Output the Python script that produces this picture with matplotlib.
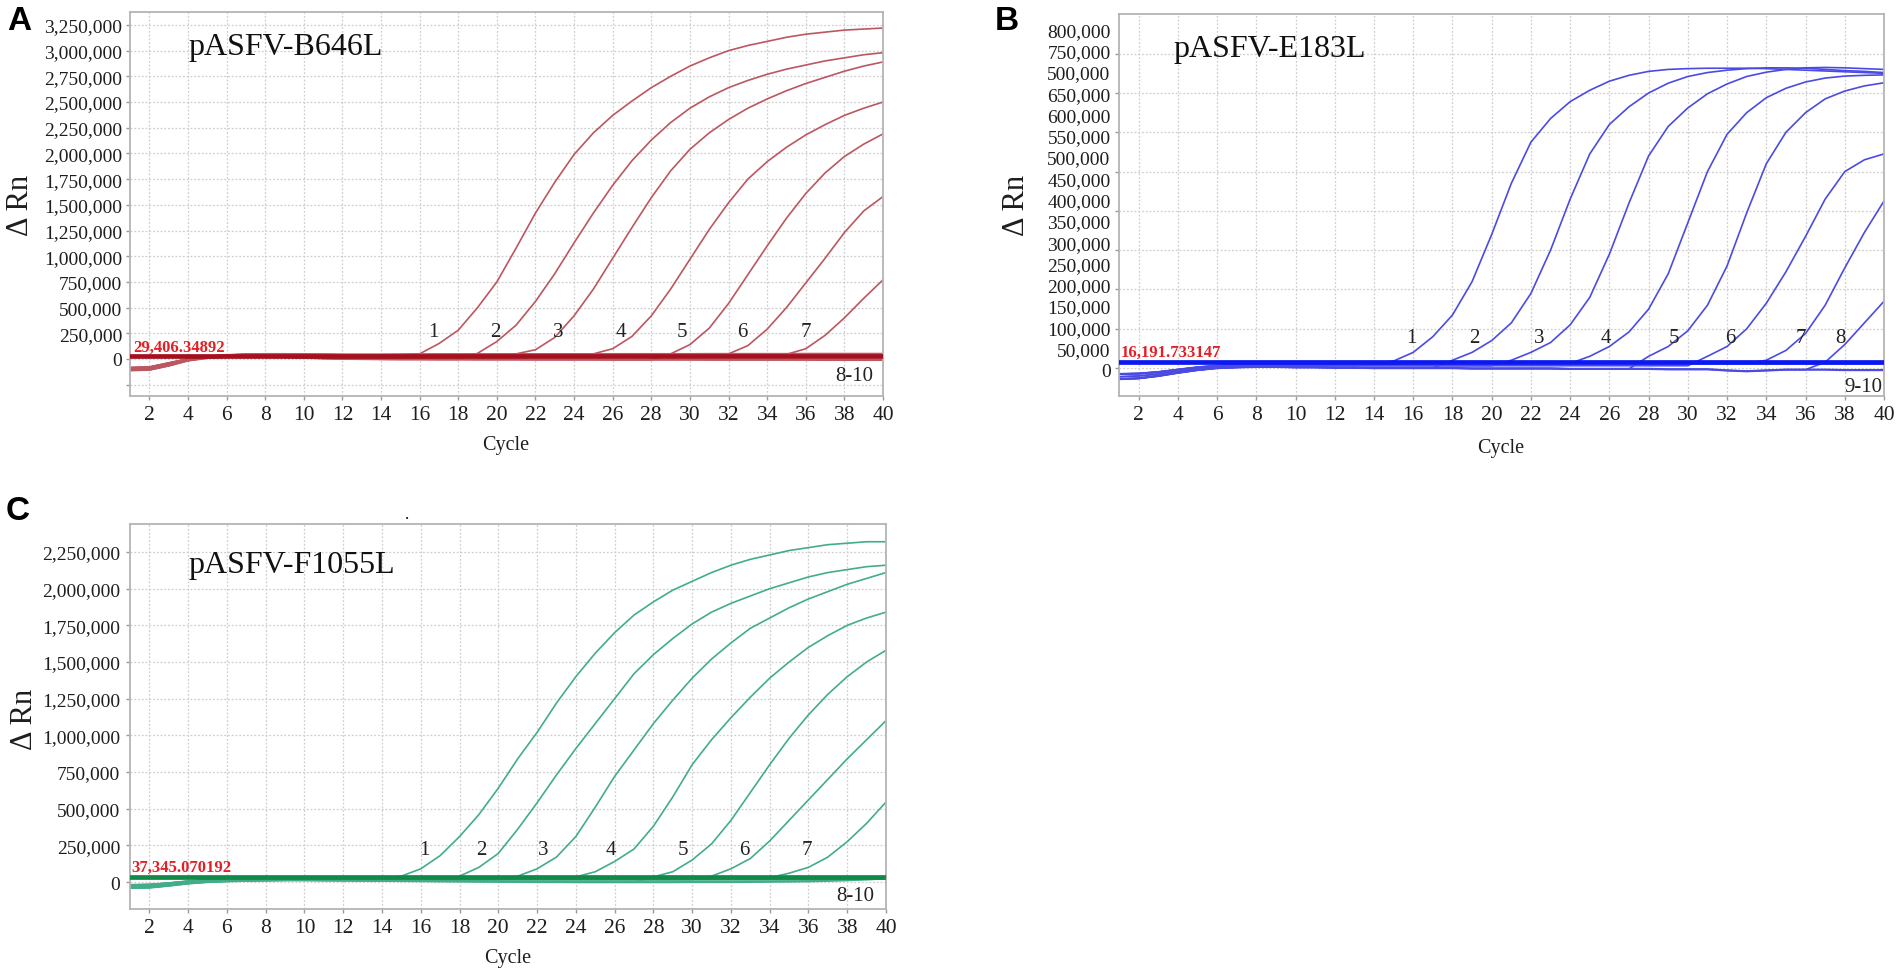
import numpy as np
import matplotlib
matplotlib.use('Agg')
import matplotlib.pyplot as plt
import matplotlib.transforms as mtransforms
from matplotlib.ticker import FixedLocator, NullLocator, FuncFormatter

# ---- data (delta Rn values in thousands, one value per cycle) ----
cycles = np.arange(1, 41)

# panel A : pASFV-B646L
a_thresh = 29406.34892
a_base = [
    [-85, -80, -40, 0, 25, 38, 45, 48, 48, 46, 44, 42, 42, 42, 43, 44, 45, 45, 46, 46,
     46, 47, 47, 47, 47, 48, 48, 48, 48, 48, 49, 49, 49, 49, 49, 50, 50, 50, 50, 50],
    [-110, -105, -65, -15, 10, 20, 24, 22, 18, 12, 6, 2, 0, -2, -3, -3, -4, -4, -5, -5,
     -5, -6, -6, -6, -6, -7, -7, -7, -7, -7, -8, -8, -8, -8, -8, -8, -9, -9, -9, -9],
    [-100, -92, -55, -8, 18, 30, 35, 36, 34, 30, 27, 25, 24, 24, 25, 26, 27, 27, 28, 28,
     28, 29, 29, 29, 29, 30, 30, 30, 30, 30, 30, 31, 31, 31, 31, 31, 32, 32, 32, 32],
]
a_start = [16, 19, 21, 25, 29, 32, 35]
a_rise = [
    [50, 150, 280, 500, 750, 1080, 1420, 1720, 1990, 2200, 2370, 2510, 2640, 2750, 2850,
     2930, 3000, 3050, 3090, 3130, 3160, 3180, 3200, 3210, 3220],
    [55, 170, 330, 560, 830, 1130, 1420, 1690, 1930, 2130, 2300, 2440, 2550, 2640, 2710,
     2770, 2820, 2860, 2900, 2930, 2960, 2980],
    [50, 90, 210, 420, 680, 980, 1280, 1570, 1830, 2040, 2200, 2330, 2440, 2530, 2610,
     2680, 2740, 2800, 2850, 2890],
    [50, 100, 220, 420, 680, 970, 1260, 1520, 1750, 1920, 2060, 2180, 2280, 2370, 2440, 2500],
    [50, 140, 300, 540, 820, 1100, 1370, 1610, 1810, 1970, 2090, 2190],
    [50, 130, 290, 500, 740, 980, 1230, 1440, 1580],
    [45, 100, 230, 400, 590, 770],
]
a_flat = 3
a_names = ['1', '2', '3', '4', '5', '6', '7']
a_name_x = [16.7, 19.9, 23.2, 26.4, 29.6, 32.7, 36.0]

# panel B : pASFV-E183L
b_thresh = 16191.733147
b_base = [
    [-15, -14, -10, -4, 2, 6, 9, 10, 11, 11, 11, 11, 11, 11, 11, 12, 12, 12, 12, 12,
     12, 12, 12, 12, 12, 12, 12, 12, 12, 12, 12, 12, 12, 12, 12, 12, 12, 12, 12, 12],
    [-28, -26, -20, -12, -5, 0, 2, 3, 3, 2, 2, 1, 1, 0, 0, 0, 0, 0, -1, -1,
     -1, -1, -1, -2, -2, -2, -2, -2, -3, -3, -3, -6, -8, -6, -4, -4, -4, -5, -5, -5],
    [-22, -20, -15, -8, -2, 3, 6, 7, 7, 7, 6, 6, 6, 6, 6, 6, 6, 6, 6, 6,
     6, 6, 6, 6, 6, 6, 6, 6, 6, 6, 6, 6, 6, 6, 6, 6, 6, 6, 6, 6],
]
b_start = [15, 18, 21, 25, 28, 31, 34, 37]
b_rise = [
    [18, 40, 80, 135, 220, 340, 470, 575, 635, 678, 707, 730, 745, 755, 760, 762, 763,
     763, 763, 762, 760, 758, 756, 754, 752, 750],
    [20, 40, 70, 115, 190, 300, 430, 545, 620, 665, 700, 725, 742, 752, 758, 762, 764,
     764, 763, 760, 757, 755, 752],
    [20, 40, 65, 110, 180, 290, 420, 540, 615, 662, 698, 723, 742, 753, 760, 764, 765,
     764, 762, 760],
    [30, 55, 92, 150, 240, 370, 500, 595, 650, 688, 712, 728, 738, 743, 745, 746],
    [30, 55, 95, 160, 260, 395, 520, 600, 650, 685, 705, 718, 726],
    [30, 55, 100, 165, 245, 335, 430, 500, 530, 545],
    [20, 45, 88, 160, 255, 345, 425],
    [15, 60, 115, 170],
]
b_flat = 2
b_names = ['1', '2', '3', '4', '5', '6', '7', '8']
b_name_x = [15.9, 19.1, 22.4, 25.8, 29.3, 32.15, 35.75, 37.8]
b_ylabels = ['800,000', '750,000', '500,000', '650,000', '600,000', '550,000', '500,000',
             '450,000', '400,000', '350,000', '300,000', '250,000', '200,000', '150,000',
             '100,000', '50,000', '0']

# panel C : pASFV-F1055L
c_thresh = 37345.070192
c_base = [
    [-20, -18, -8, 5, 14, 20, 24, 26, 27, 27, 26, 25, 24, 24, 24, 24, 24, 24, 24, 25,
     25, 25, 25, 25, 25, 26, 26, 26, 26, 26, 26, 27, 27, 27, 27, 27, 28, 28, 28, 28],
    [-40, -38, -25, -10, 0, 5, 8, 10, 12, 12, 11, 10, 9, 8, 7, 6, 5, 4, 3, 2,
     1, 0, 0, -1, -1, -1, -1, -1, -1, 0, 0, 0, 1, 2, 3, 5, 8, 12, 18, 25],
    [-30, -28, -15, -2, 8, 14, 18, 20, 20, 19, 18, 17, 16, 16, 16, 16, 16, 16, 16, 16,
     16, 16, 16, 16, 16, 16, 16, 16, 16, 16, 16, 16, 16, 16, 16, 16, 17, 18, 20, 22],
]
c_start = [15, 18, 21, 24, 28, 31, 34]
c_rise = [
    [40, 90, 180, 310, 460, 640, 840, 1020, 1220, 1400, 1560, 1700, 1820, 1910, 1990,
     2050, 2110, 2160, 2200, 2230, 2260, 2280, 2300, 2310, 2320, 2320],
    [40, 100, 195, 360, 540, 730, 910, 1080, 1250, 1420, 1550, 1660, 1760, 1840, 1900,
     1950, 2000, 2040, 2080, 2110, 2130, 2150, 2160],
    [40, 90, 170, 310, 510, 720, 900, 1080, 1240, 1390, 1520, 1630, 1730, 1800, 1870,
     1930, 1980, 2030, 2070, 2110],
    [35, 70, 140, 225, 380, 580, 800, 970, 1120, 1260, 1390, 1500, 1600, 1680, 1750, 1800, 1840],
    [35, 70, 150, 260, 420, 610, 800, 980, 1140, 1280, 1400, 1500, 1580],
    [40, 90, 160, 280, 420, 560, 700, 840, 970, 1100],
    [30, 60, 100, 170, 275, 400, 545],
]
c_flat = 3
c_names = ['1', '2', '3', '4', '5', '6', '7']
c_name_x = [16.2, 19.1, 22.3, 25.8, 29.5, 32.7, 35.9]

# ---- figure ----
plt.rcParams['font.family'] = ['Liberation Serif', 'DejaVu Serif']
W, H = 1902, 978
fig = plt.figure(figsize=(W / 100, H / 100), dpi=100)


def box(l, t, r, b):
    return [l / W, 1 - b / H, (r - l) / W, (b - t) / H]


def comma(v, pos):
    return '' if v < 0 else f'{int(round(v)):,}'


def draw(ax, base, start, rise, n_flat, col, th, th_col, lw_th):
    k = 0
    for s, r in zip(start, rise):
        b = base[k % len(base)]
        y = np.array(list(b[:s - 1]) + list(r)) * 1000
        ax.plot(cycles, y, color=col, lw=1.2, zorder=2)
        k += 1
    for i in range(n_flat):
        ax.plot(cycles, np.array(base[i % len(base)]) * 1000, color=col, lw=1.6, zorder=2)
    ax.axhline(th, color=th_col, lw=lw_th, zorder=3)


def style(ax, ylim):
    ax.set_xlim(1, 40)
    ax.set_ylim(*ylim)
    ax.set_xticks(np.arange(2, 41, 2))
    for s in ax.spines.values():
        s.set_color('#b4b4b4')
        s.set_linewidth(1.3)
    ax.tick_params(axis='both', which='both', colors='#9a9a9a', labelcolor='#1e1e1e',
                   length=3, width=1)
    ax.tick_params(axis='x', labelsize=15.5, pad=3.5)
    ax.tick_params(axis='y', labelsize=14, pad=2.5)
    ax.set_axisbelow(True)


gstyle = dict(color='#cfcfcf', linestyle=(0, (1.5, 1.5)), linewidth=0.9)

# A
axA = fig.add_axes(box(130, 13, 883, 397))
draw(axA, a_base, a_start, a_rise, a_flat, '#bc5660', a_thresh, '#a5101f', 3.4)
style(axA, (-360e3, 3.376e6))
axA.set_yticks(np.arange(-250000, 3250001, 250000))
axA.yaxis.set_major_formatter(FuncFormatter(comma))
axA.grid(True, **gstyle)
for n, x in zip(a_names, a_name_x):
    axA.text(x, 263000, n, fontsize=15, ha='center', va='center', color='#222222')
axA.text(39.5, -156000, '8-10', fontsize=15, ha='right', va='center', color='#222222')
axA.text(0.078, 0.91, 'pASFV-B646L', transform=axA.transAxes, fontsize=23,
         ha='left', va='center', color='#111111')
axA.annotate('29,406.34892', (1, a_thresh), xytext=(2, 1), textcoords='offset points',
             fontsize=12, fontweight='bold', color='#e31e24', ha='left', va='bottom')

# B : gridlines every 100,000; the printed labels sit on their own even spacing
axB = fig.add_axes(box(1119, 15, 1884, 397))
draw(axB, b_base, b_start, b_rise, b_flat, '#4b4be4', b_thresh, '#0a18f2', 3.4)
style(axB, (-71e3, 901e3))
axB.set_yticks(np.arange(0, 800001, 100000))
axB.set_yticklabels([])
axB.grid(True, **gstyle)
lab_tr = mtransforms.blended_transform_factory(axB.transAxes, axB.transData)
for lab, yv in zip(b_ylabels, np.linspace(857e3, -9.4e3, len(b_ylabels))):
    axB.text(-0.011, yv, lab, transform=lab_tr, fontsize=14, ha='right', va='center',
             color='#1e1e1e', clip_on=False)
for n, x in zip(b_names, b_name_x):
    axB.text(x, 79000, n, fontsize=15, ha='center', va='center', color='#222222')
axB.text(39.9, -46000, '9-10', fontsize=15, ha='right', va='center', color='#222222')
axB.text(0.071, 0.91, 'pASFV-E183L', transform=axB.transAxes, fontsize=23,
         ha='left', va='center', color='#111111')
axB.annotate('16,191.733147', (1, b_thresh), xytext=(1, 1), textcoords='offset points',
             fontsize=12, fontweight='bold', color='#e31e24', ha='left', va='bottom')

# C
axC = fig.add_axes(box(130, 525, 886, 910))
draw(axC, c_base, c_start, c_rise, c_flat, '#42ad88', c_thresh, '#108a46', 3.4)
style(axC, (-184e3, 2.441e6))
axC.set_yticks(np.arange(0, 2250001, 250000))
axC.yaxis.set_major_formatter(FuncFormatter(comma))
axC.tick_params(axis='y', pad=4)
axC.grid(True, **gstyle)
for n, x in zip(c_names, c_name_x):
    axC.text(x, 225000, n, fontsize=15, ha='center', va='center', color='#222222')
axC.text(39.4, -95000, '8-10', fontsize=15, ha='right', va='center', color='#222222')
axC.text(0.077, 0.896, 'pASFV-F1055L', transform=axC.transAxes, fontsize=23,
         ha='left', va='center', color='#111111')
axC.annotate('37,345.070192', (1, c_thresh), xytext=(1, 1), textcoords='offset points',
             fontsize=12, fontweight='bold', color='#e31e24', ha='left', va='bottom')

# axis titles and panel letters
for x, y in [(20, 205), (1016, 205), (24, 719)]:
    fig.text(x / W, 1 - y / H, 'Δ Rn', rotation=90, fontsize=22, ha='center', va='center',
             color='#1e1e1e')
for x, y in [(506, 446), (1501, 449), (508, 959)]:
    fig.text(x / W, 1 - y / H, 'Cycle', fontsize=14.5, ha='center', va='center',
             color='#1e1e1e')
for lab, x, y in [('A', 19, 22), ('B', 1007, 22), ('C', 18, 512)]:
    fig.text(x / W, 1 - y / H, lab, fontsize=24, fontweight='bold', ha='center',
             va='center', family=['Liberation Sans', 'DejaVu Sans'])
fig.text(407 / W, 1 - 519 / H, '.', fontsize=12, ha='center', va='baseline')

fig.savefig('out.png', dpi=100)
